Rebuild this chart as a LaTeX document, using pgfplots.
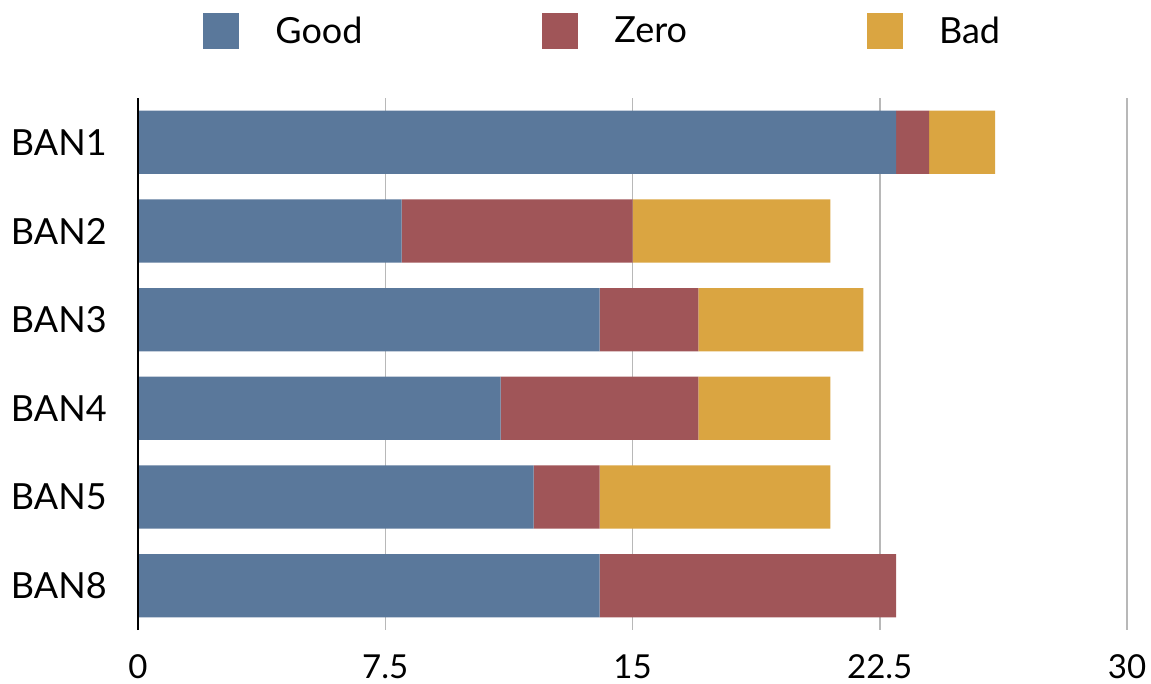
\documentclass[border=0pt]{standalone}
\usepackage{pgfplots}
\pgfplotsset{compat=1.18}
\usepackage{fontspec}
\setmainfont{Lato}
\definecolor{cgood}{HTML}{5A789B}
\definecolor{czero}{HTML}{A05558}
\definecolor{cbad}{HTML}{DAA541}
\begin{document}
\begin{tikzpicture}
\path[use as bounding box] (-69pt,-27pt) rectangle (506.5pt,315pt);
\begin{axis}[
  at={(0pt,0pt)}, anchor=south west,
  scale only axis, width=494.5pt, height=266pt,
  xbar stacked, bar width=0.714,
  xmin=0, xmax=30, ymin=0.5, ymax=6.5, y dir=reverse,
  xtick={0,7.5,15,22.5,30}, xticklabels={0,7.5,15,22.5,30},
  ytick={1,2,3,4,5,6}, yticklabels={BAN1,BAN2,BAN3,BAN4,BAN5,BAN8},
  xmajorgrids, grid style={draw=black!28, line width=0.75pt},
  axis line style={draw=none},
  major tick length=0pt,
  tick label style={font=\fontsize{18}{21}\selectfont},
  xticklabel style={anchor=north, inner sep=0pt, yshift=-12pt, font=\fontsize{16.5}{19}\selectfont},
  yticklabel style={anchor=east, inner sep=0pt, xshift=-15.5pt},
  legend columns=3,
  legend style={at={(0.0657,1.160)}, anchor=north west, draw=none, fill=none,
    inner sep=0pt, font=\fontsize{18}{21}\selectfont,
    nodes={inner sep=0pt, anchor=west},
    /tikz/every odd column/.append style={column sep=18pt},
    /tikz/every even column/.append style={column sep=90pt}},
  legend image code/.code={\fill[#1,draw=none] (0pt,-9pt) rectangle (18pt,9pt);},
  after end axis/.code={\draw[black, line width=1pt] (axis description cs:0,0) -- (axis description cs:0,1);},
]
\addplot[fill=cgood, draw=none] coordinates {(23,1) (8,2) (14,3) (11,4) (12,5) (14,6)};
\addlegendentry{Good}
\addplot[fill=czero, draw=none] coordinates {(1,1) (7,2) (3,3) (6,4) (2,5) (9,6)};
\addlegendentry{Zero}
\addplot[fill=cbad, draw=none] coordinates {(2,1) (6,2) (5,3) (4,4) (7,5) (0,6)};
\addlegendentry{Bad}
\end{axis}
\end{tikzpicture}
\end{document}
